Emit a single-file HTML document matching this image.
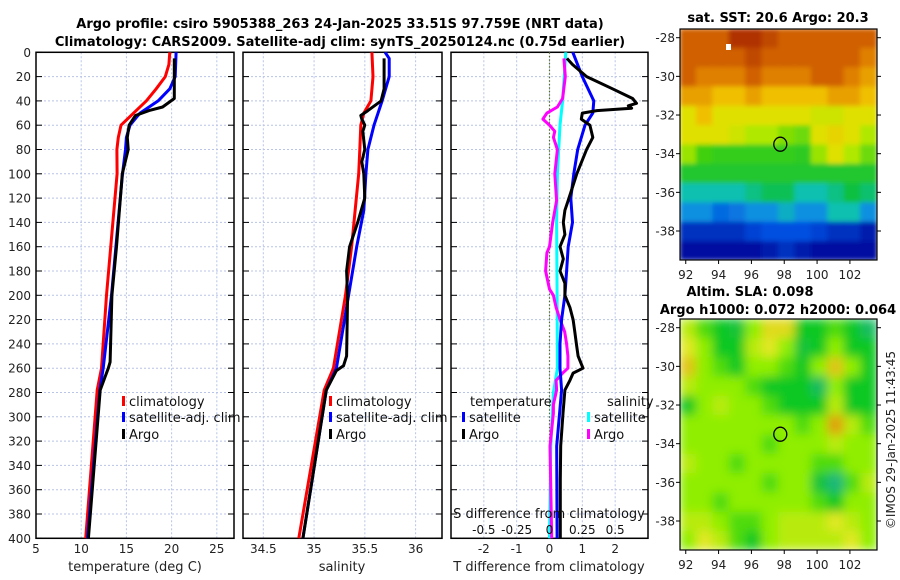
<!DOCTYPE html>
<html><head><meta charset="utf-8">
<style>
html,body{margin:0;padding:0;background:#fff;}
svg{display:block;font-family:"DejaVu Sans","Liberation Sans",sans-serif;}
</style></head>
<body>
<svg id="fig" width="900" height="580" viewBox="0 0 900 580" xmlns="http://www.w3.org/2000/svg">
<defs>
<filter id="blurS" x="0" y="0" width="1" height="1"><feGaussianBlur stdDeviation="2.5"/></filter>
<filter id="blurL" x="0" y="0" width="1" height="1"><feGaussianBlur stdDeviation="5"/></filter>
<clipPath id="clip1"><rect x="680" y="29" width="197" height="231"/></clipPath>
<clipPath id="clip2"><rect x="680" y="319" width="197" height="231"/></clipPath>
</defs>
<text x="340" y="28" text-anchor="middle" font-size="13" font-weight="bold">Argo profile: csiro 5905388_263 24-Jan-2025 33.51S 97.759E (NRT data)</text>
<text x="340" y="46" text-anchor="middle" font-size="13" font-weight="bold">Climatology: CARS2009. Satellite-adj clim: synTS_20250124.nc (0.75d earlier)</text>
<text x="778" y="22" text-anchor="middle" font-size="13" font-weight="bold">sat. SST: 20.6 Argo: 20.3</text>
<text x="750" y="296" text-anchor="middle" font-size="13" font-weight="bold">Altim. SLA: 0.098</text>
<text x="778" y="314" text-anchor="middle" font-size="13" font-weight="bold">Argo h1000: 0.072 h2000: 0.064</text>
<text transform="translate(895,440) rotate(-90)" text-anchor="middle" font-size="12" fill="#222">©IMOS 29-Jan-2025 11:43:45</text>
<g id="layer"></g>
</svg>
<script>
// ---- temperature panel data ----
const tClimDepth = [0,10,20,30,40,50,60,70,80,100,200,260,278,400];
const tClimVal   = [19.8,19.7,19.3,18.3,17.2,15.8,14.4,14.1,13.95,13.97,12.8,12.25,11.77,10.5];
const tSatDepth  = [0,20,30,40,50,60,70,80,100,200,260,278,400];
const tSatVal    = [20.5,20.4,19.8,18.5,16.5,15.4,15.0,14.9,14.57,13.35,12.43,12.06,10.7];
const tArgoDepth = [5,38,45,48,52,60,70,80,100,160,200,240,255,260,268,278,400];
const tArgoVal   = [20.3,20.3,19.0,17.5,16.0,15.3,15.1,15.2,14.55,13.9,13.4,13.25,13.2,13.0,12.6,12.1,10.8];
// ---- salinity panel data ----
const sClimDepth = [0,20,40,50,60,80,100,160,200,260,278,400];
const sClimVal   = [35.57,35.58,35.56,35.49,35.46,35.45,35.44,35.37,35.31,35.19,35.1,34.85];
const sSatDepth  = [0,5,20,40,60,80,100,130,160,200,260,278,400];
const sSatVal    = [35.70,35.74,35.74,35.67,35.59,35.53,35.51,35.49,35.42,35.34,35.22,35.12,34.89];
const sArgoDepth = [5,30,40,48,52,55,60,65,80,90,100,120,140,160,180,200,250,258,262,278,400];
const sArgoVal   = [35.69,35.69,35.66,35.53,35.46,35.47,35.5,35.48,35.5,35.47,35.49,35.5,35.43,35.35,35.32,35.33,35.32,35.29,35.22,35.12,34.89];
// ---- difference panel data ----
const dTSatDepth  = [0,20,40,50,60,80,100,120,140,160,180,200,220,240,260,278,324,400];
const dTSatVal    = [0.71,1.0,1.35,1.32,1.08,0.86,0.74,0.65,0.70,0.57,0.52,0.47,0.37,0.32,0.32,0.37,0.22,0.23];
const dTArgoDepth = [5,10,20,30,38,42,44,46,48,50,55,60,70,80,100,122,130,140,150,160,170,180,190,200,210,220,230,240,250,260,264,270,278,297,324,352,400];
const dTArgoVal   = [0.53,0.7,1.13,1.92,2.53,2.65,2.4,2.5,1.44,1.0,0.97,1.23,1.32,1.13,0.83,0.57,0.47,0.42,0.47,0.32,0.42,0.32,0.47,0.47,0.62,0.72,0.77,0.82,0.87,1.02,0.72,0.62,0.47,0.41,0.34,0.33,0.33];
const dSSatDepth  = [0,40,60,100,140,200,260,280,324,400];
const dSSatVal    = [0.124,0.1,0.08,0.06,0.054,0.058,0.06,0.03,0.01,0.0];
const dSArgoDepth = [5,20,38,45,50,55,60,65,70,80,100,122,140,160,165,180,195,200,210,220,230,240,250,260,264,270,278,290,297,324,400];
const dSArgoVal   = [0.11,0.12,0.1,0.06,-0.02,-0.05,0,0.04,0.03,0.06,0.04,0.054,0.024,0,-0.02,-0.03,0,0.03,0.05,0.08,0.116,0.13,0.14,0.14,0.1,0.05,0.054,0.03,0.03,0.004,0.017];
// ---- axis ticks ----
const depthTicks = [0,20,40,60,80,100,120,140,160,180,200,220,240,260,280,300,320,340,360,380,400];
const tTicks = [5,10,15,20,25];
const sTicks = [34.5,35,35.5,36];
const dTTicks = [-2,-1,0,1,2];
const dTTickLabels = ["-2","-1","0","1","2"];
const dSTicks = [-0.5,-0.25,0,0.25,0.5];
const dSTickLabels = ["-0.5","-0.25","0","0.25","0.5"];
const lonTicks = [92,94,96,98,100,102];
const latTicks = [-28,-30,-32,-34,-36,-38];
// ---- map grids (rows lat -28..-39, cols lon 92..103) ----
const sstGrid = [
[7,7,7,8,8,7.5,7,7,7,7,7,7],
[7,7,7,7,7.5,7,7,7,7,7,7,6.5],
[7,6.5,6.5,6.5,7,6.5,6.5,6.5,7,7,6.5,6],
[6,6,5.5,5.5,6,5.5,5.5,5.5,5.5,6,6,5.5],
[5,5.5,5,5,5,5,5,5,4.8,4.8,5,5],
[5,5,5,4.8,4.5,4.5,4.3,4.2,5,5.2,5,4.5],
[4.4,4,3.9,3.9,3.9,3.9,3.9,3.8,4.4,5,4.5,4.2],
[3.7,3.7,3.7,3.7,3.7,3.7,3.7,3.7,3.7,3.7,3.7,3.7],
[3,3,3,3,3.2,3.4,3.4,3,3,3.2,3.5,3.3],
[2.5,2.5,2.2,2.3,2.5,2.5,2.8,2.5,2.5,3,3,2.5],
[1.5,1.5,1.5,1.5,1.8,2,2,2,1.8,1.5,1.5,1.2],
[1,1,1,1,1,1.2,1.5,1.2,1,1,1,1]];
const slaGrid = [
[2.5,1.5,1,0.8,2,3.2,3.2,1,1,1.5,1,0.5],
[3,2,1,1,2.5,3,2,0.8,1,2,1,1],
[3.5,2,1.5,1,2,2,1.5,1,2,3.5,2,1],
[2.5,2,2,2,1.5,1,1,1,0.5,2,1,1],
[1,2,2.5,2,2,1.5,1,1,1,2.5,1,1],
[2,2,2,2,2,2,2,1.5,2,4,2.5,1.5],
[2,2,2,2,2,1.5,2,2,2,2.5,2,2],
[2.5,2,2,1.5,2,2,2,2,1.5,1.5,2,2],
[2,2,2,2,2,1.5,2,2,0.8,0.3,1.5,2.5],
[2,2,1.5,2,2,2,2,2,1.5,1,2,2],
[2.5,2.5,2,1.5,1.5,2,2.5,2.5,2.5,3,2.5,2],
[2,3,2.5,1.5,1,2,2.5,2.5,2.5,2.5,3,2]];
const argoLon = 97.759, argoLat = -33.51;

const NS="http://www.w3.org/2000/svg";
const layer=document.getElementById('layer');
function mk(tag,attrs,parent){const e=document.createElementNS(NS,tag);for(const k in attrs)e.setAttribute(k,attrs[k]);(parent||layer).appendChild(e);return e;}

const Y0=52.3, YK=1.215;
const yD = d => Y0 + d*YK;
const panels = [
 {x0:36,x1:234,min:5,max:26.9,name:'temperature-panel'},
 {x0:243,x1:442,min:34.3,max:36.26,name:'salinity-panel'},
 {x0:451,x1:648,min:-3,max:3,name:'difference-panel'}];
function xs(p,v){return p.x0+(v-p.min)/(p.max-p.min)*(p.x1-p.x0);}

panels.forEach((p,i)=>{
  const g=mk('g',{});
  
  
  depthTicks.forEach(d=>{
    const l=mk('line',{x1:p.x0,x2:p.x1,y1:yD(d),y2:yD(d),stroke:'#b8c4e8','stroke-dasharray':'2,2','stroke-width':1},g);
    
    
    mk('line',{x1:p.x0,x2:p.x0+6,y1:yD(d),y2:yD(d),stroke:'#000'},g);
    mk('line',{x1:p.x1-6,x2:p.x1,y1:yD(d),y2:yD(d),stroke:'#000'},g);
  });
  const ticks = i==0?tTicks:(i==1?sTicks:dTTicks);
  ticks.forEach((t,j)=>{
    const x=xs(p,t);
    const l=mk('line',{x1:x,x2:x,y1:yD(0),y2:yD(400),stroke:'#b8c4e8','stroke-dasharray':'2,2'},g);
    
    
    const tx=mk('text',{x:x,y:553,'text-anchor':'middle','font-size':12,fill:'#222'},g);
    tx.textContent = i==2?dTTickLabels[j]:String(t);
    
    
  });
  const fr=mk('rect',{x:p.x0,y:yD(0),width:p.x1-p.x0,height:yD(400)-yD(0),fill:'none',stroke:'#000','stroke-width':1.5},g);
  
  
});
depthTicks.forEach(d=>{
  const t=mk('text',{x:31,y:yD(d)+4.5,'text-anchor':'end','font-size':12,fill:'#222'});
  t.textContent=String(d);
  
  
});
[['temperature (deg C)',135,'temperature-axis-title'],['salinity',342,'salinity-axis-title'],['T difference from climatology',549,'t-difference-axis-title']].forEach(a=>{
  const t=mk('text',{x:a[1],y:571,'text-anchor':'middle','font-size':13,fill:'#222'});
  t.textContent=a[0];
  
  
});
const zl=mk('line',{x1:xs(panels[2],0),x2:xs(panels[2],0),y1:yD(0),y2:yD(400),stroke:'#556b2f','stroke-dasharray':'1.5,2','stroke-width':1.2});



function profile(p,depths,vals,color,name,scale){
  const pts=depths.map((d,k)=>xs(p,vals[k]*(scale||1)).toFixed(1)+','+yD(d).toFixed(1)).join(' ');
  const l=mk('polyline',{points:pts,fill:'none',stroke:color,'stroke-width':3,'stroke-linejoin':'round'});
  
  
}
profile(panels[0],tClimDepth,tClimVal,'#ff0000','temperature-climatology-line');
profile(panels[0],tSatDepth,tSatVal,'#0000ff','temperature-satellite-line');
profile(panels[0],tArgoDepth,tArgoVal,'#000000','temperature-argo-line');
profile(panels[1],sClimDepth,sClimVal,'#ff0000','salinity-climatology-line');
profile(panels[1],sSatDepth,sSatVal,'#0000ff','salinity-satellite-line');
profile(panels[1],sArgoDepth,sArgoVal,'#000000','salinity-argo-line');
profile(panels[2],dSSatDepth,dSSatVal,'#00ffff','s-diff-satellite-line',4);
profile(panels[2],dSArgoDepth,dSArgoVal,'#ff00ff','s-diff-argo-line',4);
profile(panels[2],dTSatDepth,dTSatVal,'#0000ff','t-diff-satellite-line');
profile(panels[2],dTArgoDepth,dTArgoVal,'#000000','t-diff-argo-line');

dSTicks.forEach((s,j)=>{
  const t=mk('text',{x:xs(panels[2],s*4),y:534,'text-anchor':'middle','font-size':12,fill:'#111'});
  t.textContent=dSTickLabels[j];
  
  
});
{const t=mk('text',{x:549,y:518,'text-anchor':'middle','font-size':13,fill:'#111'});t.textContent='S difference from climatology';

}

function legend(x,y,color,label,name){
  const g=mk('g',{});
  
  
  mk('rect',{x:x,y:y-10,width:3,height:10,fill:color},g);
  const t=mk('text',{x:x+7,y:y,'font-size':13,fill:'#111'},g);t.textContent=label;
}
legend(122,406,'#ff0000','climatology','legend-climatology');
legend(122,422,'#0000ff','satellite-adj. clim','legend-satellite-adj');
legend(122,439,'#000000','Argo','legend-argo');
legend(329,406,'#ff0000','climatology','legend-climatology-salinity');
legend(329,422,'#0000ff','satellite-adj. clim','legend-satellite-adj-salinity');
legend(329,439,'#000000','Argo','legend-argo-salinity');
{const t=mk('text',{x:470,y:406,'font-size':13,fill:'#111'});t.textContent='temperature';

}
legend(462,422,'#0000ff','satellite','legend-t-satellite');
legend(462,439,'#000000','Argo','legend-t-argo');
{const t=mk('text',{x:607,y:406,'font-size':13,fill:'#111'});t.textContent='salinity';

}
legend(587,422,'#00ffff','satellite','legend-s-satellite');
legend(587,439,'#ff00ff','Argo','legend-s-argo');

function lerpColor(stops,v){
  if(v<=stops[0][0])return stops[0][1];
  for(let i=1;i<stops.length;i++){
    if(v<=stops[i][0]){
      const a=stops[i-1],b=stops[i],f=(v-a[0])/(b[0]-a[0]);
      return [0,1,2].map(k=>Math.round(a[1][k]+(b[1][k]-a[1][k])*f));
    }
  }
  return stops[stops.length-1][1];
}
const sstStops=[[0,[0,0,127]],[1,[0,16,160]],[2,[0,80,224]],[2.5,[16,144,224]],[3,[16,192,176]],[3.5,[16,192,64]],[4,[64,208,16]],[4.5,[176,232,0]],[5,[224,224,0]],[5.5,[240,192,0]],[6,[232,160,0]],[6.5,[224,128,0]],[7,[208,96,0]],[8,[176,48,0]]];
const slaStops=[[0,[32,176,160]],[1,[16,200,32]],[2,[144,238,0]],[3,[224,232,32]],[4,[224,160,16]]];
const MX=680, MW=197, MH=231, LON0=91.65, LON1=103.65, LAT0=-27.55, LAT1=-39.5;
const lonX=lon=>MX+(lon-LON0)/(LON1-LON0)*MW;
function drawMap(top,grid,stops,filt,clip,name){
  const latY=lat=>top+(LAT0-lat)/(LAT0-LAT1)*MH;
  const g=mk('g',{'clip-path':'url(#'+clip+')'});
  
  
  const gi=mk('g',{filter:'url(#'+filt+')'},g);
  mk('rect',{x:MX,y:top,width:MW,height:MH,fill:'rgb('+lerpColor(stops,grid[6][6]).join(',')+')'},gi);
  grid.forEach((row,r)=>row.forEach((v,c)=>{
    const x0=lonX(LON0+c), x1=lonX(LON0+c+1);
    const y0=latY(LAT0-r), y1=latY(LAT0-r-1);
    const cell=mk('rect',{x:x0-0.5,y:y0-0.5,width:x1-x0+1,height:(r==grid.length-1?top+MH-y0:y1-y0)+1,fill:'rgb('+lerpColor(stops,v).join(',')+')'},gi);
    
    
  }));
  const ci=mk('ellipse',{cx:lonX(argoLon),cy:latY(argoLat),rx:6.5,ry:7,fill:'none',stroke:'#000','stroke-width':1.3});
  
  
  const fr=mk('rect',{x:MX,y:top,width:MW,height:MH,fill:'none',stroke:'#000','stroke-width':1.2});
  
  
  lonTicks.forEach(l=>{
    const x=lonX(l);
    mk('line',{x1:x,x2:x,y1:top+MH,y2:top+MH+4,stroke:'#000'});
    const t=mk('text',{x:x,y:top+MH+19,'text-anchor':'middle','font-size':12,fill:'#222'});t.textContent=String(l);
    
    
  });
  latTicks.forEach(l=>{
    const y=latY(l);
    mk('line',{x1:MX-4,x2:MX,y1:y,y2:y,stroke:'#000'});
    mk('line',{x1:MX+MW,x2:MX+MW+4,y1:y,y2:y,stroke:'#000'});
    const t=mk('text',{x:MX-5,y:y+4.5,'text-anchor':'end','font-size':12,fill:'#222'});t.textContent=String(l);
    
    
  });
}
drawMap(29,sstGrid,sstStops,'blurS','clip1','sst-map');
drawMap(319,slaGrid,slaStops,'blurL','clip2','sla-map');
{const w=mk('rect',{x:726,y:44,width:5,height:6,fill:'#fff'});

}
</script>
</body></html>
